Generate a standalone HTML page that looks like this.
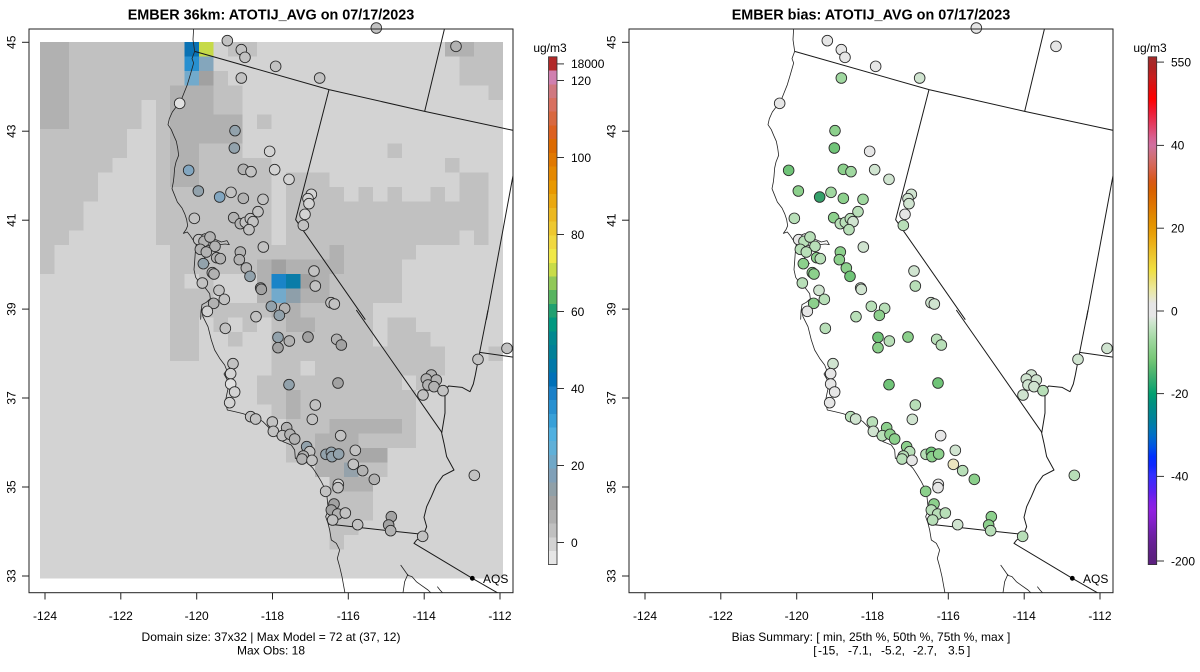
<!DOCTYPE html>
<html><head><meta charset="utf-8"><style>
html,body{margin:0;padding:0;background:#fff}
svg{display:block}
text{font-family:"Liberation Sans",Arial,sans-serif;fill:#000}
.ln{fill:none;stroke:#1a1a1a;stroke-width:3;stroke-linejoin:round}
.cs{fill:none;stroke:#222;stroke-width:2.4;stroke-linejoin:round}
.pts circle{stroke:#2a2a2a;stroke-width:2.6}
.l0{fill:#e0e0e0}.l1{fill:#d3d3d3}.l2{fill:#c2c2c2}.l3{fill:#b2b2b2}.l4{fill:#a2a2a2}.l5{fill:#92a2ac}.l6{fill:#82a6c0}
.r0{fill:#e6e6e6}.r1{fill:#d0e4d0}.r2{fill:#b8dfb8}.r3{fill:#a0d8a0}.r4{fill:#8cd08c}.r5{fill:#70c478}.r6{fill:#34a06a}.ry{fill:#ece6c0}
</style></head><body>
<svg width="1200" height="672" viewBox="0 0 1200 672" xmlns="http://www.w3.org/2000/svg">
<defs>
<clipPath id="cb"><rect x="29" y="29" width="484" height="563.7"/></clipPath>
<linearGradient id="gb" gradientUnits="userSpaceOnUse" x1="0" y1="56.8" x2="0" y2="564.6">
<stop offset="0.008" stop-color="#a52a2a"/><stop offset="0.024" stop-color="#b22222"/><stop offset="0.040" stop-color="#c81e1e"/><stop offset="0.057" stop-color="#dc1010"/><stop offset="0.083" stop-color="#ff0000"/><stop offset="0.106" stop-color="#f01830"/><stop offset="0.124" stop-color="#e83050"/><stop offset="0.142" stop-color="#e04870"/><stop offset="0.159" stop-color="#d86090"/><stop offset="0.175" stop-color="#d070a0"/><stop offset="0.191" stop-color="#d07080"/><stop offset="0.209" stop-color="#d46a60"/><stop offset="0.226" stop-color="#d86040"/><stop offset="0.244" stop-color="#d85818"/><stop offset="0.262" stop-color="#d86000"/><stop offset="0.280" stop-color="#dc6c00"/><stop offset="0.296" stop-color="#e07800"/><stop offset="0.313" stop-color="#e08800"/><stop offset="0.332" stop-color="#e49400"/><stop offset="0.349" stop-color="#e8a008"/><stop offset="0.367" stop-color="#ecb018"/><stop offset="0.384" stop-color="#ecc028"/><stop offset="0.403" stop-color="#eed038"/><stop offset="0.420" stop-color="#f0e040"/><stop offset="0.438" stop-color="#ece070"/><stop offset="0.455" stop-color="#ece898"/><stop offset="0.472" stop-color="#e8e8c0"/><stop offset="0.486" stop-color="#e6e6e6"/><stop offset="0.510" stop-color="#e6e6e6"/><stop offset="0.522" stop-color="#d0e6d0"/><stop offset="0.539" stop-color="#b8e0b8"/><stop offset="0.557" stop-color="#a0d8a0"/><stop offset="0.575" stop-color="#8cd08c"/><stop offset="0.594" stop-color="#78c878"/><stop offset="0.611" stop-color="#5cbc70"/><stop offset="0.629" stop-color="#40b070"/><stop offset="0.647" stop-color="#20a870"/><stop offset="0.664" stop-color="#00a070"/><stop offset="0.682" stop-color="#009080"/><stop offset="0.700" stop-color="#008890"/><stop offset="0.718" stop-color="#0080a0"/><stop offset="0.734" stop-color="#0078b8"/><stop offset="0.752" stop-color="#0068d0"/><stop offset="0.770" stop-color="#0050e8"/><stop offset="0.787" stop-color="#0030ff"/><stop offset="0.805" stop-color="#1028ff"/><stop offset="0.823" stop-color="#3030ff"/><stop offset="0.841" stop-color="#4828f8"/><stop offset="0.858" stop-color="#6020f0"/><stop offset="0.876" stop-color="#8020e8"/><stop offset="0.893" stop-color="#9020e0"/><stop offset="0.910" stop-color="#8820d0"/><stop offset="0.928" stop-color="#7820b8"/><stop offset="0.946" stop-color="#6c20a0"/><stop offset="0.963" stop-color="#642090"/><stop offset="0.986" stop-color="#5c2080"/>
</linearGradient>
<g id="lines">
 <g transform="translate(28,28) scale(0.33333)">
  <path class="cs" d="M497,0 L495,35 L500,70 L492,92 L497,105 L487,140 L478,170 L468,195 L460,215 L448,232 L433,252 L424,272 L420,290 L430,305 L437,322 L445,340 L449,360 L452,382 L444,402 L440,420 L438,445 L436,462 L432,482 L440,502 L448,522 L462,540 L470,557 L476,575 L479,593 L474,605 L466,616 L478,612 L486,622 L494,634 L505,648 L502,672 L500,700 L498,725 L503,748 L515,765 L532,780 L545,797 L547,812 L535,823 L522,830 L519,850 L518,875"/>
  <path class="cs" d="M494,634 L510,625 L530,617 L548,622 L562,634 L580,642 L597,638 L604,650 L592,648 L575,650 L560,648 L548,655 L535,650 L520,658 L505,648 M520,658 L530,690 L545,708"/>
  <path class="ln" d="M500,70 L903,185 L1190,250 L1460,308 M1250,0 L1190,250 M903,185 L803,575 L1012,875 M1462,405 L1375,875"/>
 </g>
 <g transform="translate(28,310) scale(0.33333)">
  <path class="cs" d="M520,-3 L525,20 L540,50 L550,90 L560,120 L575,145 L590,165 L596,180 L588,192 L598,210 L601,232 L596,255 L592,275 L598,300 L620,305 L645,311 L665,318 L690,325 L705,335 L720,350 L728,365 L745,378 L765,395 L790,405 L800,420 L802,445 L820,450 L840,460 L855,475 L868,495 L880,515 L890,535 L897,560 L900,590 L897,610 L893,620 L900,640 L905,660 L910,690 L925,700 L935,720 L928,745 L935,770 L942,800 L952,855"/>
  <path class="cs" d="M1118,765 L1130,782 L1140,796 L1152,800 L1165,815 L1180,826 L1200,840 L1215,855 M1140,792 L1130,815 L1124,855 M1228,830 L1236,840 L1250,855"/>
  <path class="ln" d="M985,0 L1240,365 L1248,400 L1256,440 L1278,480 L1245,497 L1225,525 L1210,560 L1196,590 L1188,622 L1196,650 L1186,676 L1166,690 L1158,700 L1333,805 L1420,855 M1380,0 L1355,127 L1342,195 L1336,222 L1326,245 L1302,232 L1262,228 L1251,240 L1251,309 L1241,370 M1355,127 L1460,142 M900,642 L1090,663 L1175,672"/>
 </g>
</g>
</defs>
<rect x="0" y="0" width="1200" height="672" fill="#fff"/>

<!-- ============ LEFT PANEL ============ -->
<text x="271" y="19.5" text-anchor="middle" font-weight="bold" font-size="14.4">EMBER 36km: ATOTIJ_AVG on 07/17/2023</text>

<g transform="translate(40,42) scale(14.47,14.5)" shape-rendering="crispEdges">
 <rect x="0" y="0" width="32" height="37" fill="#d3d3d3"/>
 <g fill="#c1c1c1">
  <rect x="0" y="6" width="1" height="10"/><rect x="1" y="6" width="1" height="8"/><rect x="2" y="0" width="1" height="13"/><rect x="3" y="0" width="1" height="11"/><rect x="4" y="0" width="1" height="9"/><rect x="5" y="0" width="1" height="8"/><rect x="6" y="0" width="1" height="6"/><rect x="7" y="0" width="1" height="4"/><rect x="8" y="0" width="1" height="14"/>
  <rect x="9" y="0" width="1" height="3"/><rect x="9" y="10" width="1" height="12"/>
  <rect x="10" y="10" width="1" height="6"/><rect x="10" y="17" width="1" height="5"/>
  <rect x="11" y="7" width="1" height="12"/>
  <rect x="12" y="2" width="1" height="3"/><rect x="12" y="7" width="1" height="13"/>
  <rect x="13" y="0" width="1" height="1"/><rect x="13" y="3" width="1" height="2"/><rect x="13" y="7" width="1" height="12"/><rect x="13" y="20" width="1" height="1"/>
  <rect x="14" y="0" width="1" height="1"/><rect x="14" y="8" width="1" height="8"/><rect x="14" y="18" width="1" height="2"/>
  <rect x="15" y="5" width="1" height="1"/><rect x="15" y="8" width="1" height="7"/><rect x="15" y="18" width="1" height="1"/><rect x="15" y="23" width="1" height="2"/>
  <rect x="16" y="14" width="1" height="1"/><rect x="16" y="18" width="1" height="8"/>
  <rect x="17" y="9" width="1" height="6"/><rect x="17" y="18" width="1" height="11"/>
  <rect x="18" y="9" width="1" height="6"/><rect x="18" y="17" width="1" height="12"/>
  <rect x="19" y="9" width="1" height="21"/>
  <rect x="20" y="10" width="1" height="25"/>
  <rect x="21" y="11" width="1" height="23"/>
  <rect x="22" y="10" width="1" height="23"/>
  <rect x="23" y="11" width="1" height="19"/>
  <rect x="24" y="7" width="1" height="1"/><rect x="24" y="10" width="1" height="18"/>
  <rect x="25" y="11" width="1" height="4"/><rect x="25" y="19" width="1" height="4"/><rect x="25" y="24" width="1" height="4"/>
  <rect x="26" y="11" width="1" height="3"/><rect x="26" y="20" width="1" height="4"/>
  <rect x="27" y="10" width="1" height="4"/><rect x="27" y="21" width="1" height="2"/>
  <rect x="28" y="8" width="1" height="1"/><rect x="28" y="11" width="1" height="3"/>
  <rect x="29" y="1" width="1" height="2"/><rect x="29" y="9" width="1" height="4"/>
  <rect x="30" y="0" width="1" height="3"/><rect x="30" y="9" width="1" height="5"/>
  <rect x="31" y="0" width="1" height="4"/><rect x="31" y="21" width="1" height="1"/>
 </g>
 <g fill="#d3d3d3">
  <rect x="18" y="22" width="1" height="1"/><rect x="12" y="16" width="2" height="2"/><rect x="23" y="18" width="1" height="3"/><rect x="24" y="18" width="1" height="1"/>
 </g>
 <g fill="#b1b1b1">
  <rect x="0" y="0" width="2" height="6"/><rect x="9" y="3" width="2" height="7"/><rect x="11" y="3" width="1" height="4"/><rect x="12" y="5" width="2" height="2"/><rect x="28" y="0" width="2" height="1"/>
  <rect x="20" y="14" width="1" height="2"/><rect x="15" y="15" width="1" height="3"/><rect x="17" y="15" width="3" height="1"/><rect x="19" y="16" width="1" height="2"/><rect x="18" y="17" width="1" height="1"/>
  <rect x="16" y="18" width="2" height="1"/><rect x="17" y="19" width="2" height="1"/><rect x="17" y="24" width="1" height="2"/>
  <rect x="20" y="26" width="4" height="1"/><rect x="19" y="27" width="3" height="3"/><rect x="20" y="30" width="3" height="1"/><rect x="24" y="26" width="1" height="1"/>
 </g>
 <g fill="#a1a1a1">
  <rect x="18" y="16" width="1" height="1"/><rect x="16" y="15" width="1" height="1"/><rect x="11" y="2" width="1" height="1"/>
 </g>
 <rect x="22" y="28" width="2" height="1" fill="#a8a8a8"/>
 <rect x="10" y="0" width="1" height="1" fill="#0a72b4"/>
 <rect x="11" y="0" width="1" height="1" fill="#c6da48"/>
 <rect x="10" y="1" width="1" height="1" fill="#2890d0"/>
 <rect x="11" y="1" width="1" height="1" fill="#84a6bc"/>
 <rect x="10" y="2" width="1" height="1" fill="#72aacc"/>
 <rect x="16" y="16" width="1" height="1" fill="#1a84c8"/>
 <rect x="17" y="16" width="1" height="1" fill="#0a7ca8"/>
 <rect x="16" y="17" width="1" height="1" fill="#72aacc"/>
 <rect x="17" y="17" width="1" height="1" fill="#8e9faa"/>
 <rect x="21" y="29" width="1" height="1" fill="#95a2ab"/>
</g>

<g clip-path="url(#cb)"><use href="#lines"/></g>

<g class="pts">
<g transform="translate(28,28) scale(0.33333)">
<circle cx="598" cy="38" r="16" class="l2"/><circle cx="640" cy="65" r="16" class="l2"/><circle cx="651" cy="88" r="16" class="l2"/><circle cx="743" cy="115" r="16" class="l2"/><circle cx="640" cy="150" r="16" class="l2"/><circle cx="875" cy="150" r="16" class="l2"/><circle cx="1045" cy="0" r="16" class="l2"/><circle cx="1284" cy="55" r="16" class="l3"/><circle cx="455" cy="226" r="16" class="l0"/><circle cx="621" cy="308" r="16" class="l5"/><circle cx="619" cy="360" r="16" class="l5"/><circle cx="725" cy="370" r="16" class="l1"/><circle cx="482" cy="427" r="16" class="l6"/><circle cx="646" cy="424" r="16" class="l3"/><circle cx="669" cy="431" r="16" class="l2"/><circle cx="740" cy="425" r="16" class="l1"/><circle cx="783" cy="454" r="16" class="l1"/><circle cx="511" cy="489" r="16" class="l5"/><circle cx="575" cy="507" r="16" class="l6"/><circle cx="609" cy="493" r="16" class="l2"/><circle cx="646" cy="511" r="16" class="l3"/><circle cx="705" cy="514" r="16" class="l2"/><circle cx="850" cy="499" r="16" class="l1"/><circle cx="840" cy="512" r="16" class="l1"/><circle cx="843" cy="527" r="16" class="l1"/><circle cx="831" cy="559" r="16" class="l1"/><circle cx="826" cy="592" r="16" class="l2"/><circle cx="499" cy="571" r="16" class="l2"/><circle cx="617" cy="569" r="16" class="l3"/><circle cx="637" cy="587" r="16" class="l3"/><circle cx="652" cy="583" r="16" class="l2"/><circle cx="667" cy="572" r="16" class="l2"/><circle cx="675" cy="581" r="16" class="l2"/><circle cx="663" cy="605" r="16" class="l2"/><circle cx="690" cy="551" r="16" class="l2"/><circle cx="512" cy="635" r="16" class="l2"/><circle cx="528" cy="640" r="16" class="l3"/><circle cx="546" cy="627" r="16" class="l3"/><circle cx="561" cy="655" r="16" class="l3"/><circle cx="517" cy="664" r="16" class="l3"/><circle cx="535" cy="672" r="16" class="l3"/><circle cx="566" cy="689" r="16" class="l3"/><circle cx="577" cy="692" r="16" class="l3"/><circle cx="526" cy="707" r="16" class="l5"/><circle cx="553" cy="734" r="16" class="l3"/><circle cx="558" cy="738" r="16" class="l3"/><circle cx="637" cy="672" r="16" class="l3"/><circle cx="634" cy="695" r="16" class="l3"/><circle cx="655" cy="720" r="16" class="l3"/><circle cx="666" cy="745" r="16" class="l5"/><circle cx="706" cy="657" r="16" class="l2"/><circle cx="523" cy="765" r="16" class="l2"/><circle cx="573" cy="787" r="16" class="l2"/><circle cx="589" cy="814" r="16" class="l2"/><circle cx="557" cy="826" r="16" class="l3"/><circle cx="538" cy="850" r="16" class="l1"/><circle cx="698" cy="780" r="16" class="l4"/><circle cx="700" cy="784" r="16" class="l4"/><circle cx="730" cy="835" r="16" class="l5"/><circle cx="770" cy="841" r="16" class="l3"/><circle cx="684" cy="866" r="16" class="l2"/><circle cx="754" cy="862" r="16" class="l5"/><circle cx="858" cy="729" r="16" class="l2"/><circle cx="862" cy="774" r="16" class="l2"/><circle cx="909" cy="824" r="16" class="l2"/><circle cx="919" cy="828" r="16" class="l2"/>
</g>
<g transform="translate(28,310) scale(0.33333)">
<circle cx="592" cy="55" r="16" class="l2"/><circle cx="750" cy="82" r="16" class="l5"/><circle cx="784" cy="93" r="16" class="l3"/><circle cx="750" cy="113" r="16" class="l4"/><circle cx="840" cy="81" r="16" class="l4"/><circle cx="926" cy="88" r="16" class="l3"/><circle cx="940" cy="105" r="16" class="l4"/><circle cx="615" cy="161" r="16" class="l2"/><circle cx="608" cy="191" r="16" class="l1"/><circle cx="608" cy="222" r="16" class="l0"/><circle cx="620" cy="246" r="16" class="l1"/><circle cx="605" cy="278" r="16" class="l1"/><circle cx="783" cy="224" r="16" class="l5"/><circle cx="930" cy="219" r="16" class="l4"/><circle cx="862" cy="285" r="16" class="l2"/><circle cx="853" cy="328" r="16" class="l2"/><circle cx="668" cy="320" r="16" class="l2"/><circle cx="683" cy="327" r="16" class="l2"/><circle cx="733" cy="336" r="16" class="l2"/><circle cx="736" cy="364" r="16" class="l2"/><circle cx="776" cy="353" r="16" class="l3"/><circle cx="763" cy="377" r="16" class="l2"/><circle cx="786" cy="373" r="16" class="l3"/><circle cx="800" cy="387" r="16" class="l3"/><circle cx="938" cy="377" r="16" class="l2"/><circle cx="836" cy="410" r="16" class="l5"/><circle cx="845" cy="425" r="16" class="l2"/><circle cx="826" cy="438" r="16" class="l3"/><circle cx="822" cy="447" r="16" class="l3"/><circle cx="852" cy="451" r="16" class="l2"/><circle cx="894" cy="433" r="16" class="l5"/><circle cx="910" cy="427" r="16" class="l5"/><circle cx="912" cy="440" r="16" class="l5"/><circle cx="932" cy="432" r="16" class="l5"/><circle cx="982" cy="421" r="16" class="l2"/><circle cx="976" cy="463" r="16" class="l2"/><circle cx="1004" cy="482" r="16" class="l3"/><circle cx="1039" cy="508" r="16" class="l3"/><circle cx="931" cy="523" r="16" class="l1"/><circle cx="930" cy="533" r="16" class="l2"/><circle cx="893" cy="544" r="16" class="l2"/><circle cx="918" cy="582" r="16" class="l4"/><circle cx="910" cy="600" r="16" class="l4"/><circle cx="929" cy="612" r="16" class="l3"/><circle cx="952" cy="609" r="16" class="l2"/><circle cx="914" cy="630" r="16" class="l2"/><circle cx="989" cy="644" r="16" class="l2"/><circle cx="1090" cy="620" r="16" class="l4"/><circle cx="1082" cy="645" r="16" class="l4"/><circle cx="1088" cy="662" r="16" class="l3"/><circle cx="1184" cy="679" r="16" class="l2"/><circle cx="1350" cy="148" r="16" class="l2"/><circle cx="1437" cy="115" r="16" class="l2"/><circle cx="1339" cy="496" r="16" class="l2"/><circle cx="1210" cy="195" r="16" class="l3"/><circle cx="1195" cy="207" r="16" class="l3"/><circle cx="1225" cy="210" r="16" class="l3"/><circle cx="1200" cy="225" r="16" class="l3"/><circle cx="1218" cy="230" r="16" class="l3"/><circle cx="1185" cy="255" r="16" class="l2"/><circle cx="1245" cy="242" r="16" class="l2"/>
</g>
</g>

<circle cx="472.3" cy="578.3" r="2.4" fill="#000"/>
<text x="483" y="583" font-size="12">AQS</text>

<rect x="29" y="29" width="484" height="563.7" fill="none" stroke="#222" stroke-width="1"/>
<g stroke="#222" stroke-width="1">
 <line x1="22" y1="42.3" x2="29" y2="42.3"/><line x1="22" y1="131.2" x2="29" y2="131.2"/><line x1="22" y1="220.2" x2="29" y2="220.2"/><line x1="22" y1="309.1" x2="29" y2="309.1"/><line x1="22" y1="398" x2="29" y2="398"/><line x1="22" y1="487" x2="29" y2="487"/><line x1="22" y1="576" x2="29" y2="576"/>
 <line x1="45" y1="592.7" x2="45" y2="599.5"/><line x1="120.8" y1="592.7" x2="120.8" y2="599.5"/><line x1="196.7" y1="592.7" x2="196.7" y2="599.5"/><line x1="272.5" y1="592.7" x2="272.5" y2="599.5"/><line x1="348.3" y1="592.7" x2="348.3" y2="599.5"/><line x1="424.2" y1="592.7" x2="424.2" y2="599.5"/><line x1="500" y1="592.7" x2="500" y2="599.5"/>
</g>
<g font-size="12" text-anchor="middle">
 <text transform="translate(15.5,42.3) rotate(-90)">45</text>
 <text transform="translate(15.5,131.2) rotate(-90)">43</text>
 <text transform="translate(15.5,220.2) rotate(-90)">41</text>
 <text transform="translate(15.5,309.1) rotate(-90)">39</text>
 <text transform="translate(15.5,398) rotate(-90)">37</text>
 <text transform="translate(15.5,487) rotate(-90)">35</text>
 <text transform="translate(15.5,576) rotate(-90)">33</text>
 <text x="45" y="620">-124</text><text x="120.8" y="620">-122</text><text x="196.7" y="620">-120</text><text x="272.5" y="620">-118</text><text x="348.3" y="620">-116</text><text x="424.2" y="620">-114</text><text x="500" y="620">-112</text>
 <text x="271" y="641">Domain size: 37x32 | Max Model = 72 at (37, 12)</text>
 <text x="271" y="654.5">Max Obs: 18</text>
</g>

<!-- left colorbar -->
<g shape-rendering="crispEdges">
<rect x="548.5" y="56.8" width="8.5" height="13.8" fill="#b22a2a"/><rect x="548.5" y="70.5" width="8.5" height="13.8" fill="#d080b0"/><rect x="548.5" y="84.3" width="8.5" height="13.8" fill="#d07880"/><rect x="548.5" y="98.0" width="8.5" height="13.8" fill="#d87060"/><rect x="548.5" y="111.7" width="8.5" height="13.8" fill="#d86840"/><rect x="548.5" y="125.5" width="8.5" height="13.8" fill="#dc6020"/><rect x="548.5" y="139.2" width="8.5" height="13.8" fill="#dc6a00"/><rect x="548.5" y="152.9" width="8.5" height="13.8" fill="#e07800"/><rect x="548.5" y="166.6" width="8.5" height="13.8" fill="#e48800"/><rect x="548.5" y="180.4" width="8.5" height="13.8" fill="#e89800"/><rect x="548.5" y="194.1" width="8.5" height="13.8" fill="#eaa810"/><rect x="548.5" y="207.8" width="8.5" height="13.8" fill="#ecb820"/><rect x="548.5" y="221.6" width="8.5" height="13.8" fill="#eec830"/><rect x="548.5" y="235.3" width="8.5" height="13.8" fill="#f0d840"/><rect x="548.5" y="249.0" width="8.5" height="13.8" fill="#f0e848"/><rect x="548.5" y="262.8" width="8.5" height="13.8" fill="#c8dc48"/><rect x="548.5" y="276.5" width="8.5" height="13.8" fill="#90c858"/><rect x="548.5" y="290.2" width="8.5" height="13.8" fill="#58b460"/><rect x="548.5" y="303.9" width="8.5" height="13.8" fill="#20a070"/><rect x="548.5" y="317.7" width="8.5" height="13.8" fill="#009880"/><rect x="548.5" y="331.4" width="8.5" height="13.8" fill="#008890"/><rect x="548.5" y="345.1" width="8.5" height="13.8" fill="#008098"/><rect x="548.5" y="358.9" width="8.5" height="13.8" fill="#0078a8"/><rect x="548.5" y="372.6" width="8.5" height="13.8" fill="#0070b8"/><rect x="548.5" y="386.3" width="8.5" height="13.8" fill="#1a80c8"/><rect x="548.5" y="400.1" width="8.5" height="13.8" fill="#2890d0"/><rect x="548.5" y="413.8" width="8.5" height="13.8" fill="#38a0d8"/><rect x="548.5" y="427.5" width="8.5" height="13.8" fill="#50b0e0"/><rect x="548.5" y="441.2" width="8.5" height="13.8" fill="#60b0d8"/><rect x="548.5" y="455.0" width="8.5" height="13.8" fill="#70a8c8"/><rect x="548.5" y="468.7" width="8.5" height="13.8" fill="#80a0b8"/><rect x="548.5" y="482.4" width="8.5" height="13.8" fill="#90a0a8"/><rect x="548.5" y="496.2" width="8.5" height="13.8" fill="#a0a0a0"/><rect x="548.5" y="509.9" width="8.5" height="13.8" fill="#b0b0b0"/><rect x="548.5" y="523.6" width="8.5" height="13.8" fill="#c0c0c0"/><rect x="548.5" y="537.4" width="8.5" height="13.8" fill="#d3d3d3"/><rect x="548.5" y="551.1" width="8.5" height="13.5" fill="#e6e6e6"/>
</g>
<rect x="548.5" y="56.8" width="8.5" height="507.8" fill="none" stroke="#333" stroke-width="0.8"/>
<g stroke="#333" stroke-width="1">
 <line x1="557" y1="63.9" x2="564" y2="63.9"/><line x1="557" y1="80.5" x2="564" y2="80.5"/><line x1="557" y1="157.5" x2="564" y2="157.5"/><line x1="557" y1="234.5" x2="564" y2="234.5"/><line x1="557" y1="311.5" x2="564" y2="311.5"/><line x1="557" y1="388.5" x2="564" y2="388.5"/><line x1="557" y1="465.5" x2="564" y2="465.5"/><line x1="557" y1="542.5" x2="564" y2="542.5"/>
</g>
<g font-size="12">
 <text x="550" y="52" text-anchor="middle">ug/m3</text>
 <text x="571" y="68.2">18000</text><text x="571" y="84.8">120</text><text x="571" y="161.8">100</text><text x="571" y="238.8">80</text><text x="571" y="315.8">60</text><text x="571" y="392.8">40</text><text x="571" y="469.8">20</text><text x="571" y="546.8">0</text>
</g>

<!-- ============ RIGHT PANEL ============ -->
<text x="871" y="19.5" text-anchor="middle" font-weight="bold" font-size="14.4">EMBER bias: ATOTIJ_AVG on 07/17/2023</text>

<g transform="translate(600,0)">
 <g clip-path="url(#cb)"><use href="#lines"/></g>
</g>

<g class="pts">
<g transform="translate(628,28) scale(0.33333)">
<circle cx="598" cy="38" r="16" class="r0"/><circle cx="640" cy="65" r="16" class="r0"/><circle cx="651" cy="88" r="16" class="r0"/><circle cx="743" cy="115" r="16" class="r0"/><circle cx="640" cy="150" r="16" class="r3"/><circle cx="875" cy="150" r="16" class="r1"/><circle cx="1045" cy="0" r="16" class="r0"/><circle cx="1284" cy="55" r="16" class="r0"/><circle cx="455" cy="226" r="16" class="r0"/><circle cx="621" cy="308" r="16" class="r4"/><circle cx="619" cy="360" r="16" class="r5"/><circle cx="725" cy="370" r="16" class="r0"/><circle cx="482" cy="427" r="16" class="r5"/><circle cx="646" cy="424" r="16" class="r4"/><circle cx="669" cy="431" r="16" class="r3"/><circle cx="740" cy="425" r="16" class="r1"/><circle cx="783" cy="454" r="16" class="r1"/><circle cx="511" cy="489" r="16" class="r4"/><circle cx="575" cy="507" r="16" class="r6"/><circle cx="609" cy="493" r="16" class="r3"/><circle cx="646" cy="511" r="16" class="r4"/><circle cx="705" cy="514" r="16" class="r3"/><circle cx="850" cy="499" r="16" class="r1"/><circle cx="840" cy="512" r="16" class="r1"/><circle cx="843" cy="527" r="16" class="r1"/><circle cx="831" cy="559" r="16" class="r0"/><circle cx="826" cy="592" r="16" class="r2"/><circle cx="499" cy="571" r="16" class="r2"/><circle cx="617" cy="569" r="16" class="r4"/><circle cx="637" cy="587" r="16" class="r2"/><circle cx="652" cy="583" r="16" class="r2"/><circle cx="667" cy="572" r="16" class="r2"/><circle cx="675" cy="581" r="16" class="r1"/><circle cx="663" cy="605" r="16" class="r2"/><circle cx="690" cy="551" r="16" class="r2"/><circle cx="512" cy="635" r="16" class="r0"/><circle cx="528" cy="640" r="16" class="r2"/><circle cx="546" cy="627" r="16" class="r2"/><circle cx="561" cy="655" r="16" class="r2"/><circle cx="517" cy="664" r="16" class="r2"/><circle cx="535" cy="672" r="16" class="r2"/><circle cx="566" cy="689" r="16" class="r4"/><circle cx="577" cy="692" r="16" class="r2"/><circle cx="526" cy="707" r="16" class="r4"/><circle cx="553" cy="734" r="16" class="r4"/><circle cx="558" cy="738" r="16" class="r4"/><circle cx="637" cy="672" r="16" class="r4"/><circle cx="634" cy="695" r="16" class="r4"/><circle cx="655" cy="720" r="16" class="r4"/><circle cx="666" cy="745" r="16" class="r5"/><circle cx="706" cy="657" r="16" class="r1"/><circle cx="523" cy="765" r="16" class="r2"/><circle cx="573" cy="787" r="16" class="r1"/><circle cx="589" cy="814" r="16" class="r2"/><circle cx="557" cy="826" r="16" class="r4"/><circle cx="538" cy="850" r="16" class="r0"/><circle cx="698" cy="780" r="16" class="r1"/><circle cx="700" cy="784" r="16" class="r1"/><circle cx="730" cy="835" r="16" class="r2"/><circle cx="770" cy="841" r="16" class="r2"/><circle cx="684" cy="866" r="16" class="r2"/><circle cx="754" cy="862" r="16" class="r4"/><circle cx="858" cy="729" r="16" class="r1"/><circle cx="862" cy="774" r="16" class="r2"/><circle cx="909" cy="824" r="16" class="r1"/><circle cx="919" cy="828" r="16" class="r1"/>
</g>
<g transform="translate(628,310) scale(0.33333)">
<circle cx="592" cy="55" r="16" class="r2"/><circle cx="750" cy="82" r="16" class="r5"/><circle cx="784" cy="93" r="16" class="r2"/><circle cx="750" cy="113" r="16" class="r4"/><circle cx="840" cy="81" r="16" class="r4"/><circle cx="926" cy="88" r="16" class="r2"/><circle cx="940" cy="105" r="16" class="r2"/><circle cx="615" cy="161" r="16" class="r1"/><circle cx="608" cy="191" r="16" class="r0"/><circle cx="608" cy="222" r="16" class="r0"/><circle cx="620" cy="246" r="16" class="r0"/><circle cx="605" cy="278" r="16" class="r0"/><circle cx="783" cy="224" r="16" class="r5"/><circle cx="930" cy="219" r="16" class="r5"/><circle cx="862" cy="285" r="16" class="r2"/><circle cx="853" cy="328" r="16" class="r1"/><circle cx="668" cy="320" r="16" class="r2"/><circle cx="683" cy="327" r="16" class="r1"/><circle cx="733" cy="336" r="16" class="r2"/><circle cx="736" cy="364" r="16" class="r1"/><circle cx="776" cy="353" r="16" class="r4"/><circle cx="763" cy="377" r="16" class="r2"/><circle cx="786" cy="373" r="16" class="r4"/><circle cx="800" cy="387" r="16" class="r4"/><circle cx="938" cy="377" r="16" class="r0"/><circle cx="836" cy="410" r="16" class="r4"/><circle cx="845" cy="425" r="16" class="r2"/><circle cx="826" cy="438" r="16" class="r2"/><circle cx="822" cy="447" r="16" class="r2"/><circle cx="852" cy="451" r="16" class="r0"/><circle cx="894" cy="433" r="16" class="r2"/><circle cx="910" cy="427" r="16" class="r5"/><circle cx="912" cy="440" r="16" class="r4"/><circle cx="932" cy="432" r="16" class="r4"/><circle cx="982" cy="421" r="16" class="r1"/><circle cx="976" cy="463" r="16" class="ry"/><circle cx="1004" cy="482" r="16" class="r2"/><circle cx="1039" cy="508" r="16" class="r4"/><circle cx="931" cy="523" r="16" class="r0"/><circle cx="930" cy="533" r="16" class="r0"/><circle cx="893" cy="544" r="16" class="r4"/><circle cx="918" cy="582" r="16" class="r4"/><circle cx="910" cy="600" r="16" class="r2"/><circle cx="929" cy="612" r="16" class="r2"/><circle cx="952" cy="609" r="16" class="r2"/><circle cx="914" cy="630" r="16" class="r2"/><circle cx="989" cy="644" r="16" class="r1"/><circle cx="1090" cy="620" r="16" class="r4"/><circle cx="1082" cy="645" r="16" class="r4"/><circle cx="1088" cy="662" r="16" class="r2"/><circle cx="1184" cy="679" r="16" class="r2"/><circle cx="1350" cy="148" r="16" class="r1"/><circle cx="1437" cy="115" r="16" class="r1"/><circle cx="1339" cy="496" r="16" class="r2"/><circle cx="1210" cy="195" r="16" class="r1"/><circle cx="1195" cy="207" r="16" class="r1"/><circle cx="1225" cy="210" r="16" class="r1"/><circle cx="1200" cy="225" r="16" class="r1"/><circle cx="1218" cy="230" r="16" class="r1"/><circle cx="1185" cy="255" r="16" class="r1"/><circle cx="1245" cy="242" r="16" class="r2"/>
</g>
</g>

<circle cx="1072.3" cy="578.3" r="2.4" fill="#000"/>
<text x="1083" y="583" font-size="12">AQS</text>

<rect x="629" y="29" width="484" height="563.7" fill="none" stroke="#222" stroke-width="1"/>
<g stroke="#222" stroke-width="1">
 <line x1="622" y1="42.3" x2="629" y2="42.3"/><line x1="622" y1="131.2" x2="629" y2="131.2"/><line x1="622" y1="220.2" x2="629" y2="220.2"/><line x1="622" y1="309.1" x2="629" y2="309.1"/><line x1="622" y1="398" x2="629" y2="398"/><line x1="622" y1="487" x2="629" y2="487"/><line x1="622" y1="576" x2="629" y2="576"/>
 <line x1="645" y1="592.7" x2="645" y2="599.5"/><line x1="720.8" y1="592.7" x2="720.8" y2="599.5"/><line x1="796.7" y1="592.7" x2="796.7" y2="599.5"/><line x1="872.5" y1="592.7" x2="872.5" y2="599.5"/><line x1="948.3" y1="592.7" x2="948.3" y2="599.5"/><line x1="1024.2" y1="592.7" x2="1024.2" y2="599.5"/><line x1="1100" y1="592.7" x2="1100" y2="599.5"/>
</g>
<g font-size="12" text-anchor="middle">
 <text transform="translate(615.5,42.3) rotate(-90)">45</text>
 <text transform="translate(615.5,131.2) rotate(-90)">43</text>
 <text transform="translate(615.5,220.2) rotate(-90)">41</text>
 <text transform="translate(615.5,309.1) rotate(-90)">39</text>
 <text transform="translate(615.5,398) rotate(-90)">37</text>
 <text transform="translate(615.5,487) rotate(-90)">35</text>
 <text transform="translate(615.5,576) rotate(-90)">33</text>
 <text x="645" y="620">-124</text><text x="720.8" y="620">-122</text><text x="796.7" y="620">-120</text><text x="872.5" y="620">-118</text><text x="948.3" y="620">-116</text><text x="1024.2" y="620">-114</text><text x="1100" y="620">-112</text>
 <text x="871" y="641">Bias Summary: [ min, 25th %, 50th %, 75th %, max ]</text>
</g>
<text font-size="12" y="654.5"><tspan x="813.3">[</tspan><tspan x="818">-15,</tspan><tspan x="848">-7.1,</tspan><tspan x="881">-5.2,</tspan><tspan x="913">-2.7,</tspan><tspan x="948">3.5</tspan><tspan x="967">]</tspan></text>

<!-- right colorbar -->
<rect x="1148.2" y="56.8" width="8.5" height="507.8" fill="url(#gb)" stroke="#333" stroke-width="0.8"/>
<g stroke="#333" stroke-width="1">
 <line x1="1156.7" y1="62.1" x2="1164" y2="62.1"/><line x1="1156.7" y1="145.4" x2="1164" y2="145.4"/><line x1="1156.7" y1="228.2" x2="1164" y2="228.2"/><line x1="1156.7" y1="311" x2="1164" y2="311"/><line x1="1156.7" y1="393.6" x2="1164" y2="393.6"/><line x1="1156.7" y1="476.4" x2="1164" y2="476.4"/><line x1="1156.7" y1="561" x2="1164" y2="561"/>
</g>
<g font-size="12">
 <text x="1150" y="52" text-anchor="middle">ug/m3</text>
 <text x="1171" y="66.4">550</text><text x="1171" y="149.7">40</text><text x="1171" y="232.5">20</text><text x="1171" y="315.3">0</text><text x="1171" y="397.9">-20</text><text x="1171" y="480.7">-40</text><text x="1171" y="565.3">-200</text>
</g>
</svg>
</body></html>
